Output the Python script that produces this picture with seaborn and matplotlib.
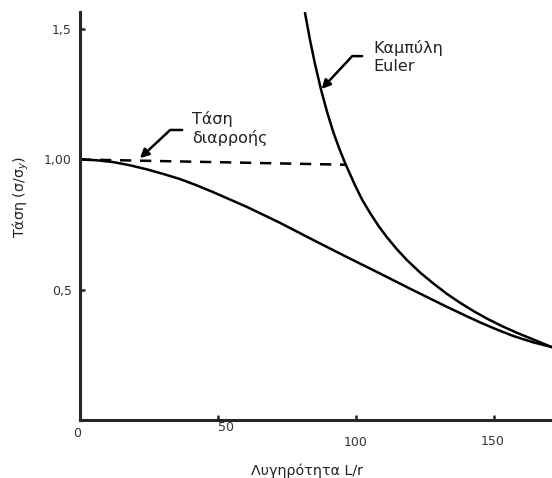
import matplotlib
matplotlib.use("Agg")
import matplotlib.pyplot as plt
import matplotlib.transforms as mtransforms
import seaborn as sns
import pandas as pd

# Euler curve
euler_x = [81.5, 83.3, 85.1, 87.3, 89.5, 91.7, 93.8, 96.0, 99.6, 102.3, 105.1, 108.1, 111.2, 114.8,
           118.5, 123.2, 127.9, 132.8, 137.7, 142.6, 147.5, 153.0, 158.3, 165.0, 171.0]
euler_y = [1.562, 1.459, 1.367, 1.268, 1.182, 1.107, 1.045, 0.987, 0.902, 0.844, 0.795, 0.746, 0.702, 0.656,
           0.614, 0.567, 0.526, 0.486, 0.451, 0.419, 0.390, 0.361, 0.336, 0.307, 0.281]

# real column curve
column_x = [0, 6.0, 12.0, 18.0, 24.3, 30.0, 36.2, 42.0, 48.2, 60.5, 72.5, 84.4, 96.7, 108.7,
            120.7, 133.0, 139.0, 144.9, 150.9, 156.9, 164.0, 171.0]
column_y = [1.0, 0.997, 0.990, 0.978, 0.962, 0.945, 0.925, 0.902, 0.875, 0.818, 0.757, 0.692, 0.626, 0.563,
            0.499, 0.435, 0.405, 0.376, 0.349, 0.324, 0.300, 0.281]

# yield stress line
yield_x = [0, 96]
yield_y = [1.0, 0.98]

x_ticks = [0, 50, 100, 150]
x_tick_labels = ['0', '50', '100', '150']
y_ticks = [0.5, 1.0, 1.5]
y_tick_labels = ['0,5', '1,00', '1,5']

euler_df = pd.DataFrame({'x': euler_x, 'y': euler_y})
column_df = pd.DataFrame({'x': column_x, 'y': column_y})
yield_df = pd.DataFrame({'x': yield_x, 'y': yield_y})

sns.set_style("ticks")
plt.rcParams['font.family'] = ['DejaVu Sans']

fig = plt.figure(figsize=(5.52, 4.78), dpi=100)
ax = fig.add_axes([0.145, 0.1203, 0.855, 0.8546])

sns.lineplot(data=euler_df, x='x', y='y', ax=ax, color='black', lw=1.8, sort=False)
sns.lineplot(data=column_df, x='x', y='y', ax=ax, color='black', lw=1.8, sort=False)
sns.lineplot(data=yield_df, x='x', y='y', ax=ax, color='black', lw=1.8, dashes=False,
             linestyle=(0, (4.5, 3.5)))

ax.set_xlim(0, 171)
ax.set_ylim(0, 1.565)

# spines
sns.despine(ax=ax)
ax.spines['left'].set_linewidth(2.2)
ax.spines['bottom'].set_linewidth(2.2)

ax.set_xticks(x_ticks)
ax.set_xticklabels(x_tick_labels)
ax.set_yticks(y_ticks)
ax.set_yticklabels(y_tick_labels)
ax.tick_params(direction='in', length=3.5, width=1.8, labelsize=9, labelcolor='#333333')
ax.tick_params(axis='x', pad=7)
ax.tick_params(axis='y', pad=6)

# scanned labels sit a bit uneven
offsets = [(-3, 3), (8, 9), (0, -6), (-1, -5)]
for lab, (dx, dy) in zip(ax.get_xticklabels(), offsets):
    lab.set_transform(lab.get_transform() + mtransforms.ScaledTranslation(dx / 100, dy / 100, fig.dpi_scale_trans))

ax.set_xlabel('Λυγηρότητα L/r', fontsize=10.3, color='#222222')
ax.set_ylabel('Τάση (σ/σ$_y$)', fontsize=10.3, color='#222222')
ax.xaxis.set_label_coords(0.481, -0.105)
ax.yaxis.set_label_coords(-0.103, 0.548)

# annotations
ax.text(40.6, 1.12, 'Τάση\nδιαρροής', fontsize=11.5, color='#222222',
        va='center', ha='left', linespacing=1.25)
ax.annotate('', xy=(21.7, 1.005), xytext=(37.0, 1.113),
            arrowprops=dict(arrowstyle='-|>', connectionstyle='angle,angleA=0,angleB=43,rad=0',
                            color='black', lw=1.8, shrinkA=0, shrinkB=0, mutation_scale=13))
ax.text(106.2, 1.393, 'Καμπύλη\nEuler', fontsize=11.5, color='#222222',
        va='center', ha='left', linespacing=1.2)
ax.annotate('', xy=(87.5, 1.27), xytext=(102.2, 1.396),
            arrowprops=dict(arrowstyle='-|>', connectionstyle='angle,angleA=0,angleB=47,rad=0',
                            color='black', lw=1.8, shrinkA=0, shrinkB=0, mutation_scale=13))

fig.savefig('out.png', dpi=100)
